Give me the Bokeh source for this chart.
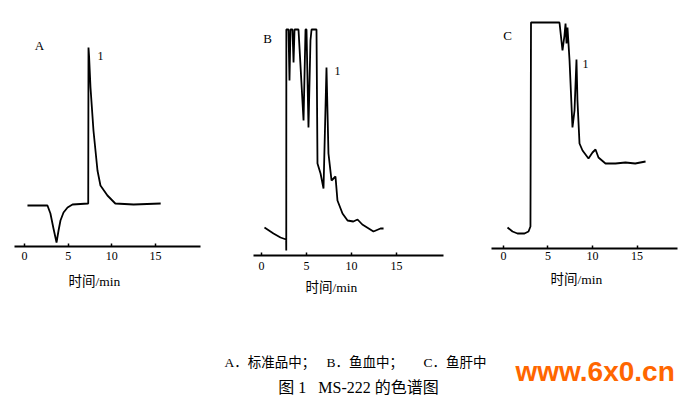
from bokeh.plotting import figure
from bokeh.layouts import column, row
from bokeh.models import Range1d, FixedTicker, Label, Title, Spacer
from bokeh.embed import file_html
from bokeh.resources import INLINE
from bokeh.core.properties import value

# ---------------- data (time in min, signal in arbitrary units) ----------------
tick_values = [0, 5, 10, 15]
tick_labels = ["0", "5", "10", "15"]
x_title = "时间/min"

# A: standard
a_time = [0.34, 1.5, 2.63, 2.97, 3.32, 3.67, 3.9, 4.12, 4.47, 4.93, 5.5, 7.3, 7.33, 7.4,
          7.56, 7.9, 8.36, 8.7, 9.5, 10.4, 12.5, 15.6]
a_signal = [41, 41, 41, 33, 18, 4, 16, 26, 34, 39, 42, 43, 199, 190,
            159, 116, 76, 61, 51, 43, 42, 43]

# B: fish blood
b_time = [0.33, 1.33, 2.11, 2.74, 2.75, 2.76, 3.0, 3.11, 3.22, 3.44, 3.56, 3.67, 4.11,
          4.67, 4.89, 5.0, 5.22, 5.44, 5.56, 6.11, 6.22, 6.56, 6.89, 7.22, 7.44, 7.78,
          8.22, 8.44, 9.0, 9.56, 10.2, 10.67, 11.2, 12.44, 13.22, 13.56]
b_signal = [28, 22, 18, 16, 5, 226, 226, 175, 226, 226, 193, 226, 226,
            135, 226, 226, 128, 215, 226, 226, 92, 82, 67, 188, 102, 75,
            79, 55, 42, 35, 34, 36, 31, 24, 27, 27]

# C: fish liver
c_time = [0.45, 1.01, 1.57, 2.36, 2.81, 3.03, 3.09, 6.29, 6.63, 6.85, 6.97, 7.08, 7.19,
          7.42, 7.75, 7.98, 8.2, 8.31, 8.54, 8.88, 9.55, 10.0, 10.34, 10.67, 11.46,
          12.58, 13.7, 14.8, 15.96]
c_signal = [21, 17, 15, 15, 17, 22, 226, 226, 198, 213, 225, 205, 221,
            188, 121, 138, 189, 148, 105, 98, 90, 96, 99, 91, 85,
            85, 86, 85, 87]

caption_1 = ["A．标准品中；", "B．鱼血中；", "C．鱼肝中"]
caption_2 = "图 1\u00a0\u00a0\u00a0MS-222 的色谱图"
watermark = "www.6x0.cn"

SERIF = "Liberation Serif, Noto Sans CJK SC"


def panel(width, b_left, b_right, xr, t, s,
          letter, letter_xy, peak_xy, title_offset, title_pad, standoff):
    p = figure(width=width, height=308, x_range=Range1d(*xr), y_range=Range1d(0, 231),
               output_backend="svg", toolbar_location=None, y_axis_location=None,
               min_border_left=b_left, min_border_right=b_right,
               min_border_top=15, min_border_bottom=62)
    p.outline_line_color = None
    p.grid.visible = False
    p.line(t, s, line_color="black", line_width=1.8)
    ax = p.xaxis[0]
    ax.ticker = FixedTicker(ticks=tick_values)
    ax.major_label_overrides = {v: l for v, l in zip(tick_values, tick_labels)}
    ax.axis_line_width = 2
    ax.axis_line_color = "black"
    ax.major_tick_in = 3
    ax.major_tick_out = 0
    ax.major_tick_line_width = 1.5
    ax.minor_tick_in = 0
    ax.minor_tick_out = 0
    ax.major_label_text_font = SERIF
    ax.major_label_text_font_size = "12px"
    ax.major_label_text_color = "black"
    ax.major_label_standoff = standoff
    p.add_layout(Title(text=x_title, align="left", offset=title_offset,
                       padding=(0, 0, title_pad, 0),
                       text_font=SERIF, text_font_size="13.5px",
                       text_font_style="normal", text_color="black"), "below")
    p.add_layout(Label(x=letter_xy[0], y=letter_xy[1], text=letter, text_font=SERIF,
                       text_font_size="13px", text_align="center", text_baseline="middle",
                       text_color="black"))
    p.add_layout(Label(x=peak_xy[0], y=peak_xy[1], text="1", text_font=SERIF,
                       text_font_size="12px", text_align="center", text_baseline="middle",
                       text_color="black"))
    return p


pA = panel(245, 14, 45, (-1.145, 20.16), a_time, a_signal,
           "A", (1.72, 201), (8.7, 191), 54, 4, 5)
pB = panel(235, 8, 37, (-0.889, 20.22), b_time, b_signal,
           "B", (0.67, 217), (8.44, 185), 52, 0, 6)
pC = panel(208, 11, 11, (-1.348, 19.55), c_time, c_signal,
           "C", (0.45, 213), (9.21, 185), 59, 2, 3)

colA = column(pA)
colB = column(Spacer(width=235, height=9), pB)
colC = column(Spacer(width=208, height=2), pC)

cap = figure(width=688, height=78, x_range=Range1d(0, 688), y_range=Range1d(395, 317),
             output_backend="svg", toolbar_location=None, min_border=0,
             x_axis_location=None, y_axis_location=None)
cap.outline_line_color = None
cap.grid.visible = False
cap.text(x=[224, 326, 423], y=[362, 362, 362], text=caption_1,
         text_font=value(SERIF), text_font_size="13.5px",
         text_align="left", text_baseline="middle", text_color="black")
cap.text(x=[358], y=[387], text=[caption_2],
         text_font=value(SERIF), text_font_size="16px",
         text_align="center", text_baseline="middle", text_color="black")
cap.text(x=[515], y=[371], text=[watermark],
         text_font=value("Liberation Sans"), text_font_size="28px", text_font_style="bold",
         text_align="left", text_baseline="middle", text_color="#FF6600")

layout = column(row(colA, colB, colC), cap)
open("out.html", "w").write(file_html(layout, INLINE))
